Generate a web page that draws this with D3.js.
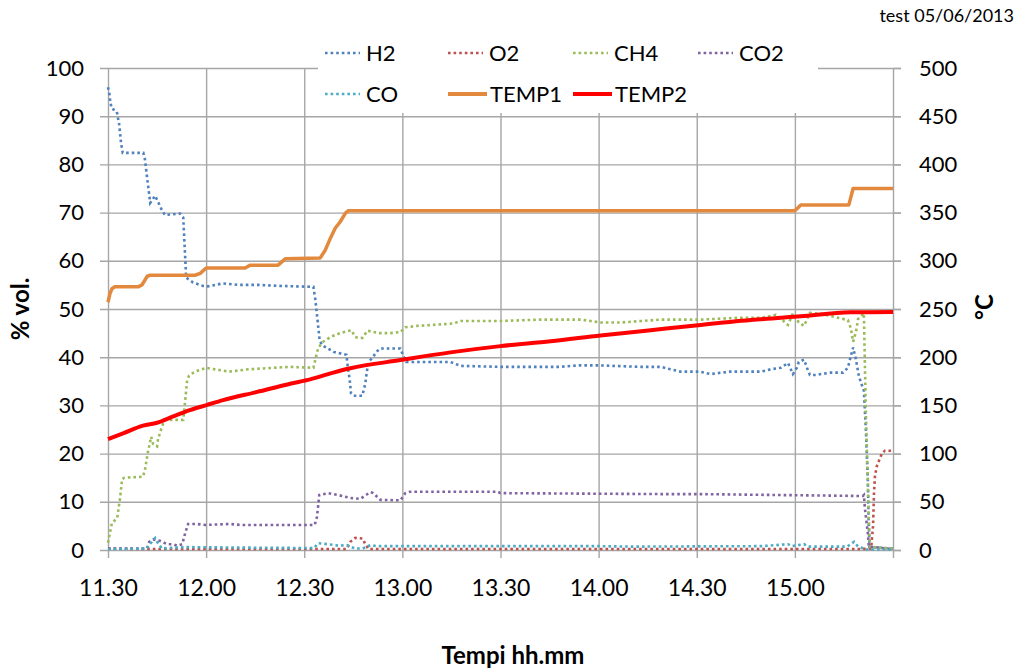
<!DOCTYPE html>
<html>
<head>
<meta charset="utf-8">
<script src="https://cdn.jsdelivr.net/npm/d3@7"></script>
<style>
  html, body { margin: 0; padding: 0; background: #fff; }
  svg { display: block; font-family: Lato, "Open Sans", sans-serif; }
</style>
</head>
<body>
<svg id="chart" width="1017" height="668"></svg>
<script>
// ---- data (time = minutes after 11:30) ----
const xTickMinutes = [0, 30, 60, 90, 120, 150, 180, 210, 240];
const xTickLabels = ["11.30", "12.00", "12.30", "13.00", "13.30", "14.00", "14.30", "15.00", ""];
const leftTicks = [0, 10, 20, 30, 40, 50, 60, 70, 80, 90, 100];
const rightTicks = [0, 50, 100, 150, 200, 250, 300, 350, 400, 450, 500];

const H2 = [[0,96],[0.4,94.7],[0.6,93.5],[1.1,91.6],[2.7,91],[3,89.8],[3.4,88.4],[4,84.4],[4.5,82.4],[10.8,82.4],[11.3,81],[12,77],[12.5,74.3],[12.9,72],[14.4,73.5],[16.5,70.5],[17.4,69.5],[22,69.8],[23,69],[23.9,56.5],[26,55.5],[29,54.8],[30.6,54.7],[35,55.3],[40,55],[46,55],[52,54.8],[62.8,54.6],[63.4,51.9],[64.7,43.6],[65.4,42.5],[69,41.1],[72.9,40.5],[73.3,38],[73.9,35.3],[74.3,32.5],[75.1,32],[77.7,32],[78.2,33.2],[78.7,34.7],[79.2,37.3],[79.7,39],[81.2,40.2],[82,41.1],[83.3,41.8],[89.4,41.8],[90.2,40.4],[91.2,39],[104.7,39],[107.8,38.2],[120,38],[138,38],[144,38.3],[150,38.3],[163,38],[169,38],[175,37],[181,37],[184.3,36.5],[190,37],[199.6,37],[202.7,37.5],[205.7,37.8],[207.9,38.8],[209.4,36.5],[210.6,37.8],[211.2,39],[212.8,39.5],[213.7,37.8],[214.6,36.3],[216.4,36.3],[218,36.5],[221,36.8],[224.7,36.8],[226.2,37.8],[227.1,40.2],[227.8,42],[228.7,39.4],[229.6,36],[231.1,33],[231.7,25],[232.3,14.5],[232.5,7.6],[232.8,0.6],[240,0.3]];
const O2 = [[0,0.3],[11.9,0.2],[73,0.2],[74.1,1.7],[75.6,2.5],[77.8,2.4],[78.7,1.2],[79.6,0.2],[230,0.2],[233.3,0.3],[233.9,5],[234.2,12],[234.5,15.5],[235.1,17.5],[235.7,18.5],[236.6,20],[237.5,20.6],[240,20.6]];
const CH4 = [[0,1.5],[1.2,5.6],[2.8,6.6],[3.7,10.8],[4.3,14.7],[5,15],[10.7,15.2],[11.3,16.6],[12.2,20.3],[13.2,23.5],[13.8,22],[15,21.5],[15.3,23],[16.5,25.6],[17.4,27],[23,27],[23.6,31],[24.2,35.3],[24.8,36.2],[26.6,37],[30,37.8],[37,37],[43,37.5],[55.7,38],[62.8,37.8],[63.7,40.4],[64.3,42],[65.8,43.2],[68,44.2],[71,45],[74.4,45.6],[75.6,44.2],[76.5,44],[77.8,44],[79.3,45.5],[82.7,45],[86.3,45],[89.4,45.2],[90.9,46.2],[94.6,46.5],[99.5,46.7],[105.6,47],[107.8,47.5],[120,47.5],[132,47.8],[144.5,47.8],[150.6,47.2],[156.7,47.2],[162.9,47.5],[169,47.8],[181.2,47.8],[187.3,48],[193.5,48.2],[199.6,48.2],[202.7,48.5],[204.2,48.8],[205.7,48],[207.9,46.7],[209.4,49.1],[211.2,47.2],[212.8,46.5],[214.6,49.2],[218,49],[226.2,47.7],[227.1,46],[227.8,43.2],[228.7,45.3],[229.3,47.9],[231.1,49.1],[231.4,38.8],[231.7,28.4],[232.3,14.5],[232.6,6.2],[233,0.6],[240,0.3]];
const CO2 = [[0,0.3],[11.9,0.3],[12.6,1.7],[13.8,2.2],[15.9,1.9],[18.1,1.2],[19.9,1.2],[21.1,0.9],[22.7,1.2],[23.6,3.5],[24.5,5.4],[27.2,5.4],[29.7,5.2],[37.3,5.4],[40.4,5.2],[63.2,5.2],[63.9,6.9],[64.6,11.4],[67.3,11.8],[70.4,11.4],[74.1,10.8],[77.1,10.6],[80.2,12],[81.1,11.8],[83.3,10.4],[89.4,10.3],[90.9,11.8],[92.4,12.1],[119.1,12.1],[120,11.8],[169,11.6],[181,11.6],[230.8,11.2],[231.1,11.4],[231.4,8.7],[232.3,3.5],[232.6,0.7],[240,0.2]];
const CO = [[0,0.2],[11.9,0.3],[12.6,1],[14.4,2.5],[15.3,1.4],[16.5,0.3],[18,0.4],[24,0.6],[40,0.5],[63,0.4],[64.3,1.4],[67.3,1.2],[70.4,0.9],[73,1],[75.6,0.3],[77.8,0.3],[80.2,1],[82,0.8],[150,0.8],[160,0.7],[200,0.8],[207.9,1.2],[209,0.8],[212.8,1.2],[214,0.7],[226,0.7],[228.1,1.7],[229.3,0.7],[231.1,0.3],[232,0.1],[240,0.1]];
const TEMP1 = [[0,257],[0.6,266],[1.2,271],[2.1,273],[9.2,273],[10.4,275],[12,284],[12.9,285],[26.6,285],[28.2,287],[30,292.5],[41.9,292.5],[43.5,295.5],[52,295.5],[54.2,302],[64.9,303],[66.4,311],[68,323.5],[69.5,334],[71,340.5],[72.6,349.5],[73.5,352],[210,352],[211.8,358],[226.5,358],[227.8,375],[240,375]];
const TEMP2 = [[0,115],[4.6,121],[10.7,129],[15,132],[19.9,138.5],[25,145],[30.3,150.5],[35.2,155.5],[45.6,164],[55.7,172.5],[61.8,177],[68.9,184],[74.1,188.5],[89.4,197],[104.7,205],[120,211.5],[135.3,216.5],[150.6,222.5],[165.9,228],[181.2,233.5],[196.5,238.5],[211.8,242.5],[227.1,246.5],[240,247]];

const seriesNames = ["H2", "O2", "CH4", "CO2", "CO", "TEMP1", "TEMP2"];
const seriesColors = ["#4F81BD", "#C0504D", "#9BBB59", "#8064A2", "#4BACC6", "#E3893D", "#FF0000"];

// ---- layout ----
const svg = d3.select("#chart");
const L = 108, R = 893, T = 68, B = 550;
const x = d3.scaleLinear().domain([0, 240]).range([L, R]);
const yL = d3.scaleLinear().domain([0, 100]).range([B, T]);
const yR = d3.scaleLinear().domain([0, 500]).range([B, T]);
const gridColor = "#A6A6A6";

// horizontal gridlines + left ticks
const gY = svg.append("g").attr("transform", `translate(${L},0)`)
  .call(d3.axisLeft(yL).tickValues(leftTicks).tickSize(8).tickPadding(16).tickFormat(d3.format("d")));
gY.select(".domain").remove();
gY.selectAll(".tick line").attr("stroke", gridColor).attr("stroke-width", 1.4)
  .attr("x1", -8).attr("x2", R - L + 8);
gY.selectAll(".tick text").attr("font-size", 22).attr("fill", "#000").attr("font-family", "Lato");

// vertical gridlines + x ticks
const gX = svg.append("g").attr("transform", `translate(0,${B})`)
  .call(d3.axisBottom(x).tickValues(xTickMinutes).tickSize(8).tickPadding(22)
    .tickFormat((d, i) => xTickLabels[i]));
gX.select(".domain").remove();
gX.selectAll(".tick line").attr("stroke", gridColor).attr("stroke-width", 1.4)
  .attr("y1", 8).attr("y2", T - B);
gX.selectAll(".tick text").attr("font-size", 23).attr("fill", "#000").attr("font-family", "Lato");

// right axis
const gR = svg.append("g").attr("transform", `translate(${R},0)`)
  .call(d3.axisRight(yR).tickValues(rightTicks).tickSize(8).tickPadding(18).tickFormat(d3.format("d")));
gR.select(".domain").remove();
gR.selectAll(".tick line").attr("stroke", gridColor).attr("stroke-width", 1.4);
gR.selectAll(".tick text").attr("font-size", 22).attr("fill", "#000").attr("font-family", "Lato");

// legend background (covers gridlines)
svg.append("rect").attr("x", 318).attr("y", 24).attr("width", 500).attr("height", 89).attr("fill", "#fff");

// ---- series ----
const gasData = [H2, O2, CH4, CO2, CO];
const lineL = d3.line().x(d => x(d[0])).y(d => yL(d[1]));
const lineR = d3.line().x(d => x(d[0])).y(d => yR(d[1]));
const lineRSmooth = d3.line().x(d => x(d[0])).y(d => yR(d[1])).curve(d3.curveMonotoneX);
const dotted = { width: 2.6, dash: "2.6,3" };

gasData.forEach((data, i) => {
  svg.append("path").datum(data).attr("d", lineL)
    .attr("fill", "none").attr("stroke", seriesColors[i])
    .attr("stroke-width", dotted.width).attr("stroke-dasharray", dotted.dash);
});
svg.append("path").datum(TEMP1).attr("d", lineR).attr("fill", "none")
  .attr("stroke", seriesColors[5]).attr("stroke-width", 3.5).attr("stroke-linejoin", "round");
svg.append("path").datum(TEMP2).attr("d", lineRSmooth).attr("fill", "none")
  .attr("stroke", seriesColors[6]).attr("stroke-width", 4).attr("stroke-linejoin", "round");

// ---- legend ----
const legendPos = [[325, 53], [448, 53], [573, 53], [698, 53], [325, 94], [448, 94], [573, 94]];
seriesNames.forEach((name, i) => {
  const [lx, ly] = legendPos[i];
  const isTemp = i >= 5;
  const symW = isTemp ? 39 : 35;
  svg.append("line").attr("x1", lx).attr("x2", lx + symW).attr("y1", ly).attr("y2", ly)
    .attr("stroke", seriesColors[i])
    .attr("stroke-width", isTemp ? 4 : dotted.width)
    .attr("stroke-dasharray", isTemp ? null : dotted.dash);
  svg.append("text").attr("x", isTemp ? lx + 42 : lx + 41).attr("y", ly).attr("dy", "0.36em")
    .attr("font-size", 22).attr("fill", "#000").text(name);
});

// ---- titles ----
svg.append("text").attr("x", 1014).attr("y", 22).attr("text-anchor", "end")
  .attr("font-size", 18).attr("fill", "#000").text("test 05/06/2013");
svg.append("text").attr("x", 513).attr("y", 664).attr("text-anchor", "middle")
  .attr("font-size", 24).attr("font-weight", "bold").attr("fill", "#000").text("Tempi hh.mm");
svg.append("text").attr("transform", "translate(29,309) rotate(-90)").attr("text-anchor", "middle")
  .attr("font-size", 24).attr("font-weight", "bold").attr("fill", "#000").text("% vol.");
svg.append("text").attr("transform", "translate(993,307) rotate(-90)").attr("text-anchor", "middle")
  .attr("font-size", 24).attr("font-weight", "bold").attr("fill", "#000").text("°C");
</script>
</body>
</html>
